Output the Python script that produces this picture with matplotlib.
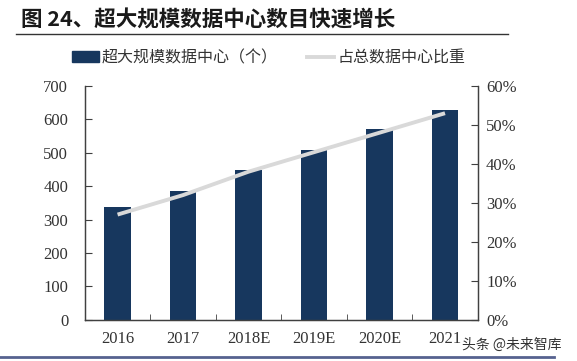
import matplotlib.pyplot as plt
import numpy as np
from matplotlib.lines import Line2D
from matplotlib.ticker import FuncFormatter, MultipleLocator

plt.rcParams['font.family'] = ['Liberation Serif', 'Noto Sans CJK SC']

# 数据
years = ['2016', '2017', '2018E', '2019E', '2020E', '2021']
counts = [338, 386, 448, 508, 570, 628]          # 超大规模数据中心（个）
share = [0.27, 0.32, 0.38, 0.43, 0.48, 0.53]      # 占总数据中心比重

BAR_COLOR = '#17375e'
LINE_COLOR = '#d9d9d9'
CJK = ['Noto Sans CJK SC', 'DejaVu Sans']

fig = plt.figure(figsize=(5.77, 3.61), dpi=100)
ax = fig.add_axes([0.147, 0.114, 0.681, 0.648])
ax2 = ax.twinx()

x = np.arange(len(years))
ax.bar(x, counts, width=0.41, color=BAR_COLOR, zorder=2)
ax2.plot(x, share, color=LINE_COLOR, lw=2.8, solid_capstyle='butt', zorder=3)

ax.set_xlim(-0.5, len(years) - 0.5)
ax.set_ylim(0, 700)
ax2.set_ylim(0, 0.6)
ax.yaxis.set_major_locator(MultipleLocator(100))
ax2.yaxis.set_major_locator(MultipleLocator(0.1))
ax2.yaxis.set_major_formatter(FuncFormatter(lambda v, p: f'{v * 100:.0f}%'))

ax.set_xticks(x)
ax.set_xticklabels(years)
ax.set_xticks(np.arange(0.5, len(years) - 1, 1), minor=True)
ax.tick_params(axis='x', which='major', length=0, pad=8, labelsize=12)
ax.tick_params(axis='x', which='minor', direction='in', length=4, color='#404040')
ax.tick_params(axis='y', direction='in', length=5, labelsize=12, pad=12, color='#404040')
ax2.tick_params(axis='y', direction='in', length=5, labelsize=12, pad=6, color='#404040')

for a in (ax, ax2):
    a.spines['top'].set_visible(False)
    for s in ('left', 'right', 'bottom'):
        a.spines[s].set_color('#404040')
        a.spines[s].set_linewidth(0.9)
    for lbl in a.get_yticklabels() + a.get_xticklabels():
        lbl.set_color('#333333')

# 图例
handles = [
    plt.Rectangle((0, 0), 1, 1, color=BAR_COLOR),
    Line2D([0], [0], color=LINE_COLOR, lw=2.8),
]
fig.legend(handles, ['超大规模数据中心（个）', '占总数据中心比重'],
           loc='center', bbox_to_anchor=(0.465, 0.84), ncol=2, frameon=False,
           prop={'family': CJK, 'size': 11.5}, handlelength=1.7,
           handletextpad=0.2, columnspacing=1.8, labelcolor='#333333')

# 标题与装饰线
fig.text(0.036, 0.945, '图 24、超大规模数据中心数目快速增长', ha='left', va='center',
         family=CJK, fontsize=15.5, fontweight='bold', color='#1a1a1a')
fig.add_artist(Line2D([0.028, 0.88], [0.905, 0.905], color='#333333', lw=1.0))
fig.add_artist(Line2D([0.0, 0.96], [0.012, 0.012], color='#56628f', lw=2.0))
fig.text(0.80, 0.045, '头条 @未来智库', ha='left', va='center',
         family=CJK, fontsize=10, color='#333333')

fig.savefig('out.png', dpi=100)
